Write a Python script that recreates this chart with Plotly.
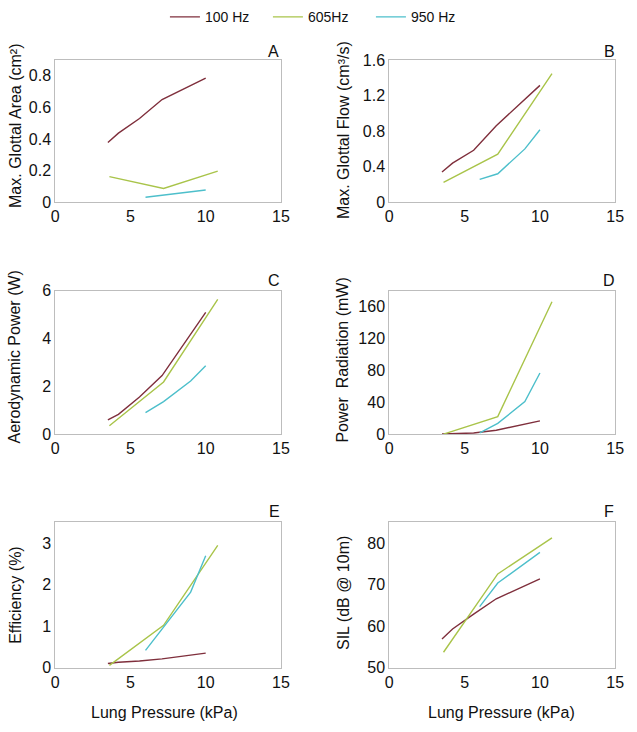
import plotly.graph_objects as go

# ---- data ----
series_names = ["100 Hz", "605Hz", "950 Hz"]
colors = ["#7F2F3C", "#A9C44A", "#4DBFCB"]

p_100 = [3.5, 4.2, 5.6, 7.1, 10.0]
p_605 = [3.6, 7.2, 10.8]
p_950 = [6.0, 7.2, 9.0, 10.0]

area_100 = [0.378, 0.437, 0.53, 0.65, 0.786]
area_605 = [0.162, 0.087, 0.197]
area_950 = [0.031, 0.045, 0.065, 0.077]

flow_100 = [0.34, 0.44, 0.584, 0.86, 1.315]
flow_605 = [0.223, 0.54, 1.447]
flow_950 = [0.256, 0.32, 0.60, 0.815]

aero_100 = [0.6, 0.83, 1.55, 2.45, 5.09]
aero_605 = [0.35, 2.18, 5.63]
aero_950 = [0.9, 1.36, 2.22, 2.86]

rad_100 = [0.3, 0.6, 1.5, 4.9, 16.7]
rad_605 = [0.0, 22.0, 166.0]
rad_950 = [1.6, 13.5, 40.8, 76.7]

eff_100 = [0.10, 0.13, 0.16, 0.21, 0.35]
eff_605 = [0.055, 1.02, 2.95]
eff_950 = [0.415, 0.98, 1.82, 2.7]

sil_100 = [56.9, 59.3, 62.9, 66.6, 71.4]
sil_605 = [53.7, 72.6, 81.3]
sil_950 = [64.7, 70.4, 77.8]
p_950_sil = [6.0, 7.2, 10.0]

panels = [
    ("A", "Max. Glottal Area (cm²)", [0, 0.9], [0, 0.2, 0.4, 0.6, 0.8], ["0", "0.2", "0.4", "0.6", "0.8"],
     [(p_100, area_100), (p_605, area_605), (p_950, area_950)]),
    ("B", "Max. Glottal Flow (cm³/s)", [0, 1.6], [0, 0.4, 0.8, 1.2, 1.6], ["0", "0.4", "0.8", "1.2", "1.6"],
     [(p_100, flow_100), (p_605, flow_605), (p_950, flow_950)]),
    ("C", "Aerodynamic Power (W)", [0, 6], [0, 2, 4, 6], ["0", "2", "4", "6"],
     [(p_100, aero_100), (p_605, aero_605), (p_950, aero_950)]),
    ("D", "Power  Radiation (mW)", [0, 180], [0, 40, 80, 120, 160], ["0", "40", "80", "120", "160"],
     [(p_100, rad_100), (p_605, rad_605), (p_950, rad_950)]),
    ("E", "Efficiency (%)", [0, 3.5], [0, 1, 2, 3], ["0", "1", "2", "3"],
     [(p_100, eff_100), (p_605, eff_605), (p_950, eff_950)]),
    ("F", "SIL (dB @ 10m)", [50, 85], [50, 60, 70, 80], ["50", "60", "70", "80"],
     [(p_100, sil_100), (p_605, sil_605), (p_950_sil, sil_950)]),
]
x_title = "Lung Pressure (kPa)"
x_ticks = [0, 5, 10, 15]

# ---- layout geometry (pixels) ----
W, H = 637, 732
col_x = [(52.3, 282.7), (393.3, 624.0)]
row_y = [(53.3, 198.8), (289.3, 436.3), (526.7, 675.3)]
ytitle_x = [11, 346]
ytitle_y = [121, 125, 357, 360, 601, 599]
letter_pos = [(275.5, 44.3), (617.7, 44.3), (275.5, 278.7), (617.7, 278.7), (276, 515), (618, 515)]

FONT = "Liberation Sans, Arial, sans-serif"
fig = go.Figure()
annotations = []

for i, (letter, ytitle, yr, yt, ytt, data) in enumerate(panels):
    r, c = divmod(i, 2)
    n = "" if i == 0 else str(i + 1)
    x0, x1 = col_x[c]
    y0, y1 = row_y[r]
    axis_common = dict(showgrid=False, zeroline=False, showline=True, mirror=True,
                       linecolor="#BDBDBD", linewidth=1, ticks="",
                       tickfont=dict(size=16, color="#111111", family=FONT))
    fig.layout["xaxis" + n] = dict(domain=[x0 / W, x1 / W], range=[0, 15], tickvals=x_ticks,
                                   anchor="y" + n, **axis_common)
    fig.layout["yaxis" + n] = dict(domain=[1 - y1 / H, 1 - y0 / H], range=yr, tickvals=yt,
                                   ticktext=ytt, anchor="x" + n, **axis_common)
    for k, (xs, ys) in enumerate(data):
        fig.add_trace(go.Scatter(x=xs, y=ys, mode="lines", name=series_names[k],
                                 line=dict(color=colors[k], width=1.4),
                                 xaxis="x" + n, yaxis="y" + n,
                                 legendgroup=series_names[k], showlegend=(i == 0)))
    annotations.append(dict(text=ytitle, x=ytitle_x[c] / W, y=1 - ytitle_y[i] / H, xref="paper", yref="paper",
                            textangle=-90, showarrow=False, xanchor="center", yanchor="middle",
                            font=dict(size=16, color="#111111", family=FONT)))
    lx, ly = letter_pos[i]
    annotations.append(dict(text=letter, x=lx / W, y=1 - ly / H, xref="paper", yref="paper",
                            showarrow=False, xanchor="center", yanchor="middle",
                            font=dict(size=16, color="#111111", family=FONT)))

for cx in [164, 508]:
    annotations.append(dict(text=x_title, x=cx / W, y=1 - 721 / H, xref="paper", yref="paper",
                            showarrow=False, xanchor="center", yanchor="middle",
                            font=dict(size=16, color="#111111", family=FONT)))

fig.update_layout(
    width=W, height=H, margin=dict(l=0, r=0, t=0, b=0),
    paper_bgcolor="white", plot_bgcolor="white",
    font=dict(family=FONT, color="#111111"),
    annotations=annotations,
    legend=dict(orientation="h", x=322 / W, xanchor="center", y=1 - 9.5 / H, yanchor="middle",
                font=dict(size=14, color="#111111", family=FONT),
                bgcolor="rgba(0,0,0,0)", itemwidth=30, entrywidth=58, entrywidthmode="pixels"),
)

fig.write_html("out.html", config={"displayModeBar": False},
               post_script="document.body.style.margin='0px';document.body.style.overflow='hidden';")
